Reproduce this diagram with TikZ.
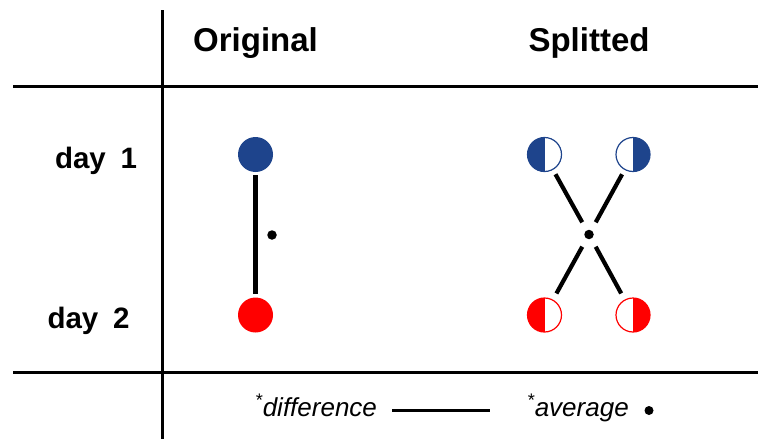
\documentclass[tikz,border=0pt]{standalone}
\usepackage{fontspec}
\setmainfont{Liberation Sans}
\definecolor{dayone}{RGB}{30,68,140}
\definecolor{daytwo}{RGB}{255,0,0}
\tikzset{
  grid/.style={line width=3pt},
  link/.style={line width=4.2pt},
  fullball/.style={circle, fill=#1, minimum size=35pt, inner sep=0pt},
  leftball/.style={circle, draw=#1, line width=1.2pt, fill=white, minimum size=34pt, inner sep=0pt,
    path picture={\fill[#1] (path picture bounding box.south) rectangle (path picture bounding box.north west);}},
  rightball/.style={circle, draw=#1, line width=1.2pt, fill=white, minimum size=34pt, inner sep=0pt,
    path picture={\fill[#1] (path picture bounding box.south) rectangle (path picture bounding box.north east);}},
  meandot/.style={circle, fill=black, minimum size=9.5pt, inner sep=0pt},
  header/.style={anchor=base, inner sep=0pt, font=\fontsize{33}{39}\selectfont\bfseries},
  daylabel/.style={anchor=base, inner sep=0pt, font=\fontsize{29.5}{34}\selectfont\bfseries},
  legend/.style={anchor=base west, inner sep=0pt, font=\fontsize{26}{30}\selectfont\itshape},
}
\begin{document}
\begin{tikzpicture}[x=1pt,y=-1pt]
\useasboundingbox (0,0) rectangle (758,439);

% table rules
\draw[grid] (162,10) -- (162,439);
\draw[grid] (13,86) -- (758,86);
\draw[grid] (13,372) -- (758,372);

% headers and row labels
\node[header] (hOrig) at (255.5,51) {Original};
\node[header] (hSplit) at (589,51) {Splitted};
\node[daylabel] (d1) at (96,168) {day\hspace{0.5em}1};
\node[daylabel] (d2) at (88.5,328) {day\hspace{0.5em}2};

% original pair
\node[fullball=dayone] (o1) at (255.5,154.5) {};
\node[fullball=daytwo] (o2) at (255.5,315) {};
\draw[link, shorten <=3pt, shorten >=3pt] (o1) -- (o2);
\node[meandot] (om) at (272,235) {};

% splitted pairs
\node[leftball=dayone]  (s1l) at (544.5,154.5) {};
\node[rightball=dayone] (s1r) at (633,154.5) {};
\node[leftball=daytwo]  (s2l) at (544.5,315) {};
\node[rightball=daytwo] (s2r) at (633,315) {};
\node[meandot] (sm) at (589,234.5) {};
\draw[link, shorten <=5pt, shorten >=9pt] (s1l) -- (sm);
\draw[link, shorten <=5pt, shorten >=9pt] (s1r) -- (sm);
\draw[link, shorten <=7pt, shorten >=9pt] (s2l) -- (sm);
\draw[link, shorten <=7pt, shorten >=9pt] (s2r) -- (sm);

% legend
\node[legend] (lDiff) at (255,416) {\textsuperscript{*}difference};
\draw[link, line width=3.2pt] (392,410.5) -- (490,410.5);
\node[legend] (lAvg) at (527,416) {\textsuperscript{*}average};
\node[meandot, minimum size=9pt] (lDot) at (649,410.5) {};
\end{tikzpicture}
\end{document}
